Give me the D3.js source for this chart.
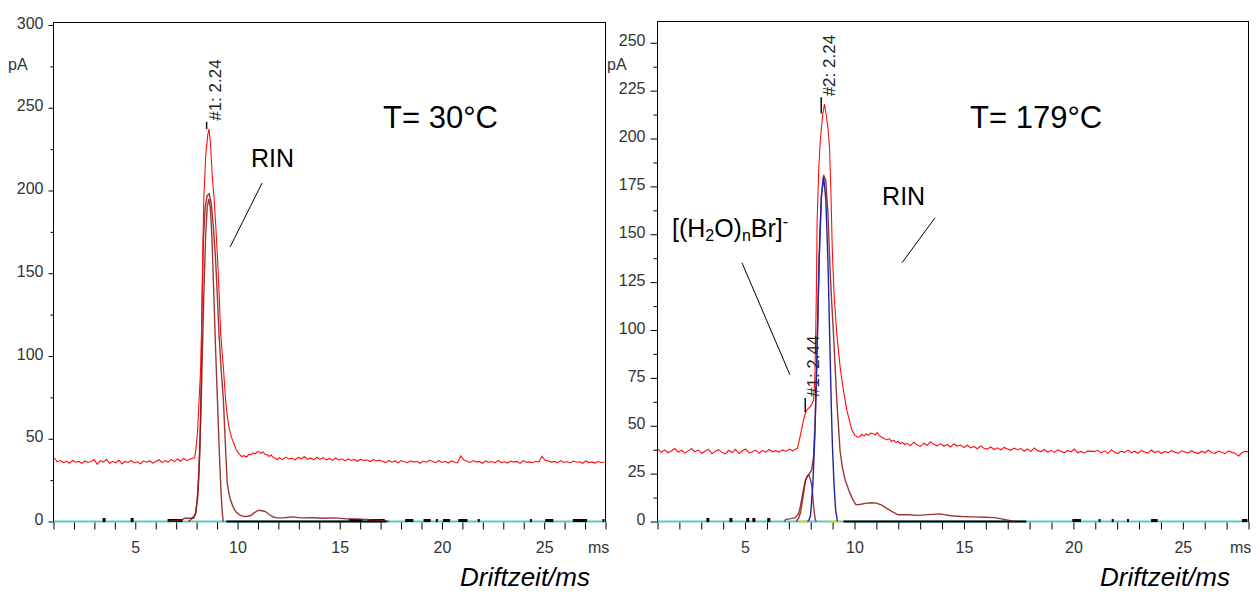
<!DOCTYPE html>
<html>
<head>
<meta charset="utf-8">
<script src="https://cdn.jsdelivr.net/npm/d3@7"></script>
<style>
body { margin: 0; background: #fff; }
text { font-family: "Liberation Sans", Arial, sans-serif; }
</style>
</head>
<body>
<div id="my_dataviz"></div>
<script>
// ---- data (drift time in ms, current in pA) ----

var xTicks = [1,2,3,4,5,6,7,8,9,10,11,12,13,14,15,16,17,18,19,20,21,22,23,24,25,26,27,28];
var xTickLabels = [5, 10, 15, 20, 25];

var leftYTicks = [0, 50, 100, 150, 200, 250, 300];
var leftYMinor = [25, 75, 125, 175, 225, 275];
var rightYTicks = [0, 25, 50, 75, 100, 125, 150, 175, 200, 225, 250];
var rightYMinor = [12.5, 37.5, 62.5, 87.5, 112.5, 137.5, 162.5, 187.5, 212.5, 237.5];

// T = 30 C, measured signal (red): flat noisy part before peak, the peak, flat part after
var redLeftPre = [38.5, 36.1, 36.8, 35.6, 36.4, 35.2, 36.9, 35.8, 36.3, 35.1,
    36.6, 35.7, 36.2, 37.4, 34.6, 36.8, 35.9, 37.6, 35.2, 36.4,
    35.5, 37.1, 34.8, 36.3, 35.7, 36.9, 35.4, 36.1, 34.9, 36.5,
    35.8, 36.7, 35.3, 36.2, 37.3, 35.6, 36.8, 35.9, 37.5, 36.2,
    37.8, 36.4, 38.1, 36.9, 37.6, 38.2];
var redLeftPeak = [[7.9,38.5],[7.96,43],[8.04,53],[8.12,73],[8.2,93],[8.26,125],[8.31,170],[8.36,198],
    [8.45,222],[8.55,234],[8.61,237],[8.68,228],[8.77,208],[8.85,196],[8.93,180],[9.02,160],[9.1,138],
    [9.18,113],[9.31,93],[9.42,73],[9.5,64],[9.58,57],[9.7,51],[9.83,47],[9.95,43],[10.07,41],[10.2,39.2],
    [10.31,39.8],[10.45,39],[10.55,40.6],[10.64,40.4],[10.75,41.5],[10.85,40.8],[10.95,42],[11.05,42.3],
    [11.15,41.2],[11.25,42],[11.35,40.6],[11.45,40.4],[11.55,39.3],[11.65,40.2],[11.75,38.6],[11.85,38.2],[11.94,37.3]];
var redLeftPost = [38.6, 37.4, 38.9, 37.8, 38.3, 37.1, 38.7, 37.9, 39.1, 37.6, 38.4, 37.2, 38.8,
    37.5, 38.6, 37.3, 38.1, 36.9, 38.4, 37.2, 37.9, 36.6, 37.8, 36.9, 37.5, 36.4, 37.7, 36.8, 37.3, 36.2, 37.4, 36.6, 37.1,
    36.3, 35.6, 36.9, 35.8, 36.6, 35.4, 36.8, 36.1, 35.5, 36.7, 35.9, 36.4, 35.2, 36.5, 35.8, 37.0, 36.2, 35.6, 36.9, 35.7, 36.4, 35.3, 36.6, 36.0, 35.4,
    39.7, 37.2,
    36.4, 35.7, 36.8, 35.9, 36.3, 35.2, 36.6, 35.8, 36.2, 35.4, 36.9, 35.6, 36.1, 35.3, 36.5, 35.9, 36.3, 35.1, 36.7, 35.8, 36.0, 35.5, 36.4, 35.9,
    39.4, 37.0,
    36.6, 35.9, 36.3, 35.5, 36.8, 35.7, 36.2, 35.4, 36.5, 35.8, 36.1, 35.2, 36.6, 35.6, 36.0, 35.3, 36.4, 35.5, 35.9];

// T = 30 C, fitted components (dark red)
var brownLeftNarrow = [[7.6,0],[7.71,1],[7.85,3],[7.96,5],[8.05,16],[8.12,33],[8.2,62],[8.28,100],[8.36,140],
    [8.44,172],[8.52,190],[8.6,195],[8.67,190],[8.75,172],[8.85,134],[8.94,100],[9.02,73],[9.08,52],
    [9.14,33],[9.2,16],[9.26,5],[9.3,0]];
var brownLeftBroad = [[6.6,0],[7.3,1],[7.4,2],[7.86,2],[7.95,5],[8.04,13],[8.1,25],[8.16,43],[8.22,83],[8.27,133],
    [8.33,170],[8.42,190],[8.52,197],[8.62,198],[8.72,192],[8.82,178],[8.92,160],[9.0,140],[9.1,112],[9.2,92],
    [9.31,73.5],[9.42,43],[9.5,23],[9.58,17],[9.66,13],[9.78,9],[9.91,6],[10.1,4],[10.31,3],[10.5,3.2],[10.64,3.6],
    [10.85,5.5],[11.05,6.8],[11.2,6.5],[11.37,6],[11.55,4.2],[11.7,3],[11.9,2.2],[12.3,2.3],[12.7,2.8],[13.1,2.2],
    [13.7,2.3],[14.2,2],[14.8,2.2],[15.3,1.6],[15.8,1.5],[16.3,1.2],[16.8,0.8],[17.2,0.4],[17.4,0]];

// T = 179 C, measured signal (red)
var redRightPre = [37.8, 36.2, 37.4, 35.9, 36.8, 38.1, 36.3, 37.2, 35.7, 36.9,
    38.0, 36.4, 37.3, 35.6, 36.7, 37.8, 35.4, 36.6, 37.5, 36.1,
    35.3, 37.2, 36.0, 37.7, 35.5, 36.8, 37.9, 35.8, 36.4, 37.3,
    35.6, 37.1, 36.2, 37.6, 36.4, 37.0, 36.2, 37.4, 36.6, 37.8, 36.9, 38.0];
var redRightPeak = [[7.39,38],[7.49,43],[7.61,49.6],[7.69,54],[7.8,58],[7.89,59],[7.98,60],[8.06,61.5],[8.13,63.5],
    [8.19,75],[8.23,100],[8.26,121],[8.29,156],[8.37,185],[8.44,199],[8.54,212],[8.63,218],[8.71,212],[8.79,205],
    [8.86,195],[8.92,173],[8.99,140],[9.07,118],[9.19,98],[9.34,81],[9.46,71],[9.57,63.5],[9.65,58],[9.72,55],
    [9.87,48],[10.02,45],[10.14,44],[10.25,44.4],[10.34,45.5],[10.44,44.6],[10.54,45.8],[10.64,45],[10.74,46.2],
    [10.85,46],[10.94,45.2],[11.04,46.4],[11.14,44.8],[11.24,44],[11.34,43.4],[11.46,42.6],[11.59,43.3],[11.69,41.8],
    [11.79,42.5],[11.89,41.2],[11.99,41.9],[12.09,40.6],[12.19,41.3],[12.29,40.2]];
var redRightPost = [40.8, 39.6, 41.4, 40.1, 39.2, 40.9, 39.8, 41.6, 40.3, 39.5, 40.7, 39.3, 40.2, 38.9, 40.5, 39.4, 39.9,
    38.6, 39.8, 38.4, 39.2, 38.0, 39.5, 38.3, 37.8, 38.9, 37.6, 38.5, 37.4, 38.7, 37.9, 37.2, 38.3, 37.5,
    38.1, 36.8, 37.9, 36.6, 38.4, 37.0, 36.5, 37.6, 36.3, 37.2, 36.1, 37.4, 36.7, 35.9, 37.1, 36.4,
    37.8, 35.9, 36.6, 35.7, 36.9, 36.6, 36.6, 37.2, 35.8, 36.9, 35.6, 37.4, 36.2, 35.5, 36.8, 36.1, 37.3,
    35.9, 36.7, 35.6, 37.1, 36.3, 35.7, 37.3, 36.0, 36.8, 35.5, 36.6, 35.9, 37.0, 36.2, 35.6, 36.9, 36.3,
    35.8, 37.0, 36.1, 35.5, 36.7, 35.9, 37.2, 36.0, 35.6, 36.8, 36.2, 35.4, 36.9, 36.1, 35.7, 34.2, 35.9, 36.6, 36.4];

// T = 179 C, fitted components: [(H2O)nBr]- (dark red, narrow), sum (dark red), RIN (blue)
var brownRightNarrow = [[7.34,0],[7.46,2],[7.54,5],[7.61,10],[7.69,16],[7.75,21],[7.83,23.5],[7.91,24.4],
    [7.99,22],[8.06,18],[8.1,12],[8.13,8],[8.17,4],[8.21,1],[8.25,0]];
var brownRightBroad = [[6.8,0],[6.85,1],[7.09,1.5],[7.3,2],[7.44,4],[7.53,8],[7.64,15],[7.75,21],[7.84,23.5],
    [7.94,25],[8.04,27],[8.13,34],[8.21,55],[8.27,80],[8.34,115],[8.41,148],[8.49,170],[8.59,181],[8.69,178],
    [8.79,160],[8.89,130],[8.97,112],[9.04,98],[9.19,63.5],[9.34,37],[9.45,28],[9.57,21.8],[9.79,14.8],[9.94,11],
    [10.07,8.7],[10.29,9],[10.55,9.6],[10.79,9.8],[11.0,9.6],[11.24,8.5],[11.46,7],[11.74,5],[11.99,3.5],[12.4,3.5],
    [12.9,3.2],[13.4,3.6],[13.9,4],[14.4,3],[14.9,2.6],[15.4,2.4],[15.9,2.2],[16.4,2],[16.9,1],[17.3,0]];
var blueRight = [[7.84,0],[7.91,0.5],[7.99,3],[8.09,18],[8.19,45],[8.29,90],[8.39,138],[8.49,170],[8.59,180],
    [8.69,168],[8.79,135],[8.89,85],[8.94,60],[8.99,40],[9.07,18],[9.14,6],[9.22,0]];

// bits of residual trace lying on the zero line
var leftBlackLine = [9.45, 17.3];
var leftBlackBits = [[6.58,7.31],[15.45,16.1],[16.4,17.2],[18.2,18.6],[19.1,19.45],[19.7,19.8],[20.05,20.4],
    [20.8,21.25],[21.75,21.85],[24.3,24.4],[25.05,25.45],[26.4,27.1],[27.85,27.95]];
var leftSpikes = [3.45, 4.82];
var rightBlackLine = [9.5, 17.85];
var rightBlackBits = [[19.95,20.35],[21.15,21.22],[21.75,21.82],[22.45,22.52],[23.55,23.85],[27.7,27.95]];
var rightSpikes = [3.28, 4.33, 5.1, 5.38, 6.06];
var rightYellowBits = [[7.5,7.85],[8.85,9.35]];

// peak markers: [time, low, high, label]
var leftMarks = [[8.49, 237, 241.5, "#1: 2.24"]];
var rightMarks = [[8.48, 213, 221.5, "#2: 2.24"], [7.75, 57, 64.5, "#1: 2.44"]];

function sampled(from, to, vals) {
    var n = vals.length;
    return vals.map(function(v, i) { return [from + i * (to - from) / (n - 1), v]; });
}

var redLeft = sampled(1.03, 7.82, redLeftPre).concat(redLeftPeak).concat(sampled(12.05, 27.95, redLeftPost));
var redRight = sampled(1.02, 7.33, redRightPre).concat(redRightPeak).concat(sampled(12.4, 28.0, redRightPost));

var svg = d3.select("#my_dataviz")
    .append("svg")
        .attr("width", 1260)
        .attr("height", 594);

var panels = [
    { id: "l", left: 53.5, right: 605.5, top: 22.5, bottom: 521.5, yMax: 301.5,
      yTicks: leftYTicks, yMinor: leftYMinor, major: 5, minor: 3,
      red: redLeft, browns: [brownLeftBroad, brownLeftNarrow], blue: null,
      blackLine: leftBlackLine, bits: leftBlackBits, spikes: leftSpikes, yellow: [],
      marks: leftMarks, title: "T= 30°C", titlePos: [17.12, 237.8],
      rinPos: [10.66, 214.2], rinLine: [[11.2, 204.5], [9.64, 165.9]], pa: 8, ms: 588, drift: 460 },
    { id: "r", left: 657.5, right: 1248.5, top: 21.5, bottom: 521.5, yMax: 261.1,
      yTicks: rightYTicks, yMinor: rightYMinor, major: 7, minor: 4,
      red: redRight, browns: [brownRightBroad, brownRightNarrow], blue: blueRight,
      blackLine: rightBlackLine, bits: rightBlackBits, spikes: rightSpikes, yellow: rightYellowBits,
      marks: rightMarks, title: "T= 179°C", titlePos: [15.28, 205.6],
      rinPos: [11.26, 165.4], rinLine: [[13.68, 158.6], [12.17, 135.1]], pa: 607, ms: 1230, drift: 1100,
      ion: [1.66, 148.7], ionLine: [[4.86, 135.1], [7.05, 76.6]] }
];

panels.forEach(function(p) {
    var x = d3.scaleLinear().domain([1, 28]).range([p.left, p.right]);
    var y = d3.scaleLinear().domain([0, p.yMax]).range([p.bottom, p.top]);
    var line = d3.line()
        .x(function(d) { return x(d[0]); })
        .y(function(d) { return y(d[1]); });

    svg.append("clipPath").attr("id", "clip-" + p.id)
      .append("rect")
        .attr("x", p.left).attr("y", p.top)
        .attr("width", p.right - p.left).attr("height", p.bottom - p.top + 2);

    // frame
    svg.append("rect")
        .attr("x", p.left).attr("y", p.top)
        .attr("width", p.right - p.left).attr("height", p.bottom - p.top)
        .attr("fill", "none").attr("stroke", "#000").attr("stroke-width", 1);

    // x axis
    svg.append("g")
        .attr("transform", "translate(0," + p.bottom + ")")
        .call(d3.axisBottom(x).tickValues(xTicks).tickSize(8).tickPadding(12)
            .tickFormat(function(d) { return xTickLabels.indexOf(d) >= 0 ? d : ""; }))
        .attr("font-size", 16)
        .attr("font-family", "Liberation Sans, Arial, sans-serif")
        .call(function(g) { g.select(".domain").remove(); })
        .call(function(g) { g.selectAll("text").attr("fill", "#333"); });

    // y axis
    svg.append("g")
        .attr("transform", "translate(" + p.left + ",0)")
        .call(d3.axisLeft(y).tickValues(p.yTicks).tickSize(p.major).tickPadding(5))
        .attr("font-size", 16)
        .attr("font-family", "Liberation Sans, Arial, sans-serif")
        .call(function(g) { g.select(".domain").remove(); })
        .call(function(g) { g.selectAll("text").attr("fill", "#333").attr("dy", "0.2em"); });
    svg.append("g")
        .attr("transform", "translate(" + p.left + ",0)")
        .call(d3.axisLeft(y).tickValues(p.yMinor).tickSize(p.minor).tickFormat(""))
        .call(function(g) { g.select(".domain").remove(); });

    svg.append("text").attr("x", p.pa).attr("y", 70)
        .attr("font-size", "16px").attr("fill", "#333").text("pA");
    svg.append("text").attr("x", p.ms).attr("y", 553)
        .attr("font-size", "16px").attr("fill", "#333").text("ms");
    svg.append("text").attr("x", p.drift).attr("y", 586)
        .attr("font-size", "26px").attr("font-style", "italic").text("Driftzeit/ms");

    var plot = svg.append("g").attr("clip-path", "url(#clip-" + p.id + ")");

    // zero line pieces
    plot.append("line")
        .attr("x1", x(1)).attr("x2", x(28)).attr("y1", y(0)).attr("y2", y(0))
        .attr("stroke", "#5cc8c8").attr("stroke-width", 2);
    plot.selectAll(".yel")
        .data(p.yellow).enter().append("line")
        .attr("x1", function(d) { return x(d[0]); }).attr("x2", function(d) { return x(d[1]); })
        .attr("y1", y(0)).attr("y2", y(0))
        .attr("stroke", "#e6cf3c").attr("stroke-width", 2);
    plot.append("line")
        .attr("x1", x(p.blackLine[0])).attr("x2", x(p.blackLine[1])).attr("y1", y(0)).attr("y2", y(0))
        .attr("stroke", "#000").attr("stroke-width", 2);
    plot.selectAll(".bit")
        .data(p.bits).enter().append("rect")
        .attr("x", function(d) { return x(d[0]); })
        .attr("width", function(d) { return Math.max(2, x(d[1]) - x(d[0])); })
        .attr("y", y(0) - 2.5).attr("height", 3)
        .attr("fill", "#1a0000");
    plot.selectAll(".spk")
        .data(p.spikes).enter().append("rect")
        .attr("x", function(d) { return x(d) - 1; })
        .attr("width", 3)
        .attr("y", y(0) - 3.5).attr("height", 4)
        .attr("fill", "#1a0000");

    // fitted components
    p.browns.forEach(function(b) {
        plot.append("path").datum(b)
            .attr("d", line)
            .attr("fill", "none").attr("stroke", "#8b1414")
            .attr("stroke-width", 1.4).attr("stroke-opacity", 0.85);
    });
    if (p.blue) {
        plot.append("path").datum(p.blue)
            .attr("d", line)
            .attr("fill", "none").attr("stroke", "#2323a8").attr("stroke-width", 1.4);
    }

    // measured spectrum
    plot.append("path").datum(p.red)
        .attr("d", line)
        .attr("fill", "none").attr("stroke", "#ff0d0d").attr("stroke-width", 1.1);

    // peak markers
    p.marks.forEach(function(m) {
        svg.append("line")
            .attr("x1", x(m[0])).attr("x2", x(m[0]))
            .attr("y1", y(m[1])).attr("y2", y(m[2]))
            .attr("stroke", "#111").attr("stroke-width", 1.5);
        svg.append("text")
            .attr("transform", "translate(" + (x(m[0]) + 14) + "," + (y(m[2]) - 1) + ") rotate(-90)")
            .attr("font-size", "17px").attr("fill", "#222")
            .text(m[3]);
    });

    // annotations
    svg.append("text")
        .attr("x", x(p.titlePos[0])).attr("y", y(p.titlePos[1]))
        .attr("font-size", "31px").text(p.title);
    svg.append("text")
        .attr("x", x(p.rinPos[0])).attr("y", y(p.rinPos[1]))
        .attr("font-size", "25px").text("RIN");
    svg.append("line")
        .attr("x1", x(p.rinLine[0][0])).attr("y1", y(p.rinLine[0][1]))
        .attr("x2", x(p.rinLine[1][0])).attr("y2", y(p.rinLine[1][1]))
        .attr("stroke", "#000").attr("stroke-width", 1);

    if (p.ion) {
        var t = svg.append("text")
            .attr("x", x(p.ion[0])).attr("y", y(p.ion[1]))
            .attr("font-size", "25px");
        t.append("tspan").text("[(H");
        t.append("tspan").attr("font-size", "16px").attr("dy", 4).text("2");
        t.append("tspan").attr("dy", -4).text("O)");
        t.append("tspan").attr("font-size", "16px").attr("dy", 4).text("n");
        t.append("tspan").attr("dy", -4).text("Br]");
        t.append("tspan").attr("font-size", "16px").attr("dy", -10).text("-");
        svg.append("line")
            .attr("x1", x(p.ionLine[0][0])).attr("y1", y(p.ionLine[0][1]))
            .attr("x2", x(p.ionLine[1][0])).attr("y2", y(p.ionLine[1][1]))
            .attr("stroke", "#000").attr("stroke-width", 1);
    }
});
</script>
</body>
</html>
